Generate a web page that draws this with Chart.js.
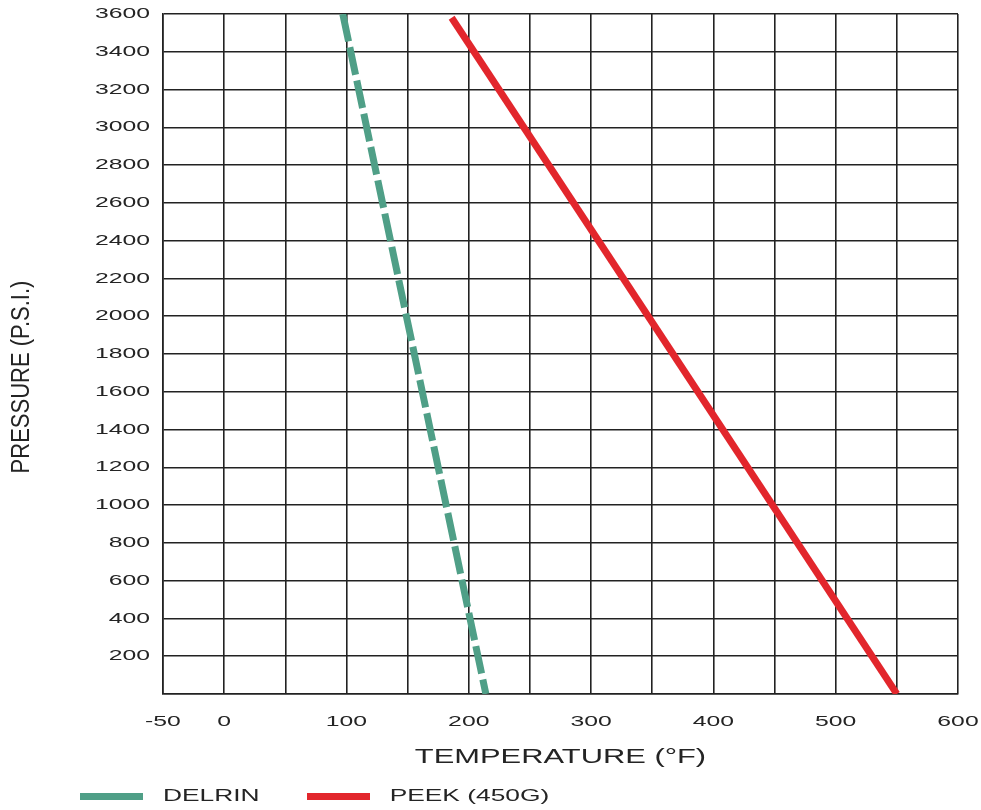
<!DOCTYPE html>
<html>
<head>
<meta charset="utf-8">
<script src="https://cdn.jsdelivr.net/npm/chart.js@4/dist/chart.umd.min.js"></script>
<style>
  html, body { margin: 0; padding: 0; background: #ffffff; }
  canvas { display: block; }
</style>
</head>
<body>
<canvas id="c" width="981" height="810"></canvas>
<script>
// ---- data ----
const seriesNames = ['DELRIN', 'PEEK (450G)'];
const delrinTemps = [97, 214];
const delrinPressures = [3600, 0];
const peekTemps = [186, 550];
const peekPressures = [3580, 0];
const xLabelledTicks = [-50, 0, 100, 200, 300, 400, 500, 600];
const xTitle = 'TEMPERATURE (°F)';
const yTitle = 'PRESSURE (P.S.I.)';

const FONT = "'Liberation Sans', Arial, Helvetica, sans-serif";
const TEXT = '#242424';
const GRID = '#222222';
const GREEN = '#4f9f87';
const RED = '#e2262c';

// horizontally stretched lettering, as in the reference
const STRETCH = {15: 1.65, 17: 1.55, 21: 1.47};
const canvas = document.getElementById('c');
const ctx = canvas.getContext('2d');
(function patch(c) {
  const fill = c.fillText.bind(c);
  const measure = c.measureText.bind(c);
  const factor = () => {
    const m = /(\d+(?:\.\d+)?)px/.exec(c.font);
    return m ? (STRETCH[Math.round(+m[1])] || 1) : 1;
  };
  c.fillText = function (text, x, y, maxWidth) {
    const s = factor();
    if (s === 1) {
      return maxWidth === undefined ? fill(text, x, y) : fill(text, x, y, maxWidth);
    }
    c.save();
    c.translate(x, y);
    c.scale(s, 1);
    if (maxWidth === undefined) fill(text, 0, 0); else fill(text, 0, 0, maxWidth / s);
    c.restore();
  };
  c.measureText = function (text) {
    const m = measure(text);
    const s = factor();
    if (s === 1) return m;
    return {
      width: m.width * s,
      actualBoundingBoxAscent: m.actualBoundingBoxAscent,
      actualBoundingBoxDescent: m.actualBoundingBoxDescent,
      actualBoundingBoxLeft: m.actualBoundingBoxLeft * s,
      actualBoundingBoxRight: m.actualBoundingBoxRight * s,
      fontBoundingBoxAscent: m.fontBoundingBoxAscent,
      fontBoundingBoxDescent: m.fontBoundingBoxDescent
    };
  };
})(ctx);

const swatchCache = {};
function swatch(color) {
  if (!swatchCache[color]) {
    const s = document.createElement('canvas');
    s.width = 63; s.height = 7;
    const sc = s.getContext('2d');
    sc.fillStyle = color;
    sc.fillRect(0, 0, 63, 7);
    swatchCache[color] = s;
  }
  return swatchCache[color];
}

function noEdgePadding(scale) {
  scale.paddingTop = 0;
  scale.paddingBottom = 0;
  scale.paddingLeft = 0;
  scale.paddingRight = 0;
}

const yTitlePlugin = {
  id: 'yTitle',
  afterDraw(chart) {
    const c = chart.ctx;
    c.save();
    c.translate(22, 377);
    c.rotate(-Math.PI / 2);
    c.scale(1.0, 1.2);
    c.font = '22px ' + FONT;
    c.fillStyle = TEXT;
    c.textAlign = 'center';
    c.textBaseline = 'middle';
    c.fillText(yTitle, 0, 0);
    c.restore();
  }
};

new Chart(ctx, {
  type: 'line',
  data: {
    datasets: [
      {
        label: seriesNames[0],
        data: delrinTemps.map((t, i) => ({x: t, y: delrinPressures[i]})),
        borderColor: GREEN,
        backgroundColor: GREEN,
        borderWidth: 7,
        borderDash: [28, 6],
        pointRadius: 0,
        fill: false,
        tension: 0
      },
      {
        label: seriesNames[1],
        data: peekTemps.map((t, i) => ({x: t, y: peekPressures[i]})),
        borderColor: RED,
        backgroundColor: RED,
        borderWidth: 7,
        pointRadius: 0,
        fill: false,
        tension: 0
      }
    ]
  },
  options: {
    responsive: false,
    animation: false,
    layout: { padding: { left: 33, right: 23, top: 14, bottom: -4.5 } },
    plugins: {
      tooltip: { enabled: false },
      title: { display: false },
      legend: {
        position: 'bottom',
        align: 'start',
        labels: {
          usePointStyle: true,
          pointStyleWidth: 86,
          boxHeight: 7,
          padding: 35.5,
          color: TEXT,
          font: { family: FONT, size: 17 },
          generateLabels(chart) {
            const items = Chart.defaults.plugins.legend.labels.generateLabels(chart);
            return items.map(it => Object.assign(it, {
              pointStyle: swatch(it.strokeStyle),
              lineWidth: 0,
              lineDash: []
            }));
          }
        }
      }
    },
    scales: {
      x: {
        type: 'linear',
        min: -50,
        max: 600,
        afterFit(scale) { scale.height = 58; noEdgePadding(scale); },
        grid: { color: GRID, lineWidth: 1.6, drawTicks: false },
        border: { display: true, color: GRID, width: 1.6 },
        ticks: {
          stepSize: 50,
          autoSkip: false,
          maxRotation: 0,
          padding: 19,
          color: TEXT,
          font: { family: FONT, size: 15 },
          callback: v => (xLabelledTicks.includes(v) ? String(v) : '')
        },
        title: {
          display: true,
          text: xTitle,
          color: TEXT,
          font: { family: FONT, size: 21 },
          padding: { top: 0, bottom: -17.6 }
        }
      },
      y: {
        type: 'linear',
        min: 0,
        max: 3600,
        afterFit(scale) { scale.width = 130; noEdgePadding(scale); },
        grid: { color: GRID, lineWidth: 1.6, drawTicks: false },
        border: { display: true, color: GRID, width: 1.6 },
        ticks: {
          stepSize: 200,
          autoSkip: false,
          padding: 13,
          color: TEXT,
          font: { family: FONT, size: 15 },
          callback: v => (v === 0 ? '' : String(v))
        },
        title: { display: false }
      }
    }
  },
  plugins: [yTitlePlugin]
});
</script>
</body>
</html>
